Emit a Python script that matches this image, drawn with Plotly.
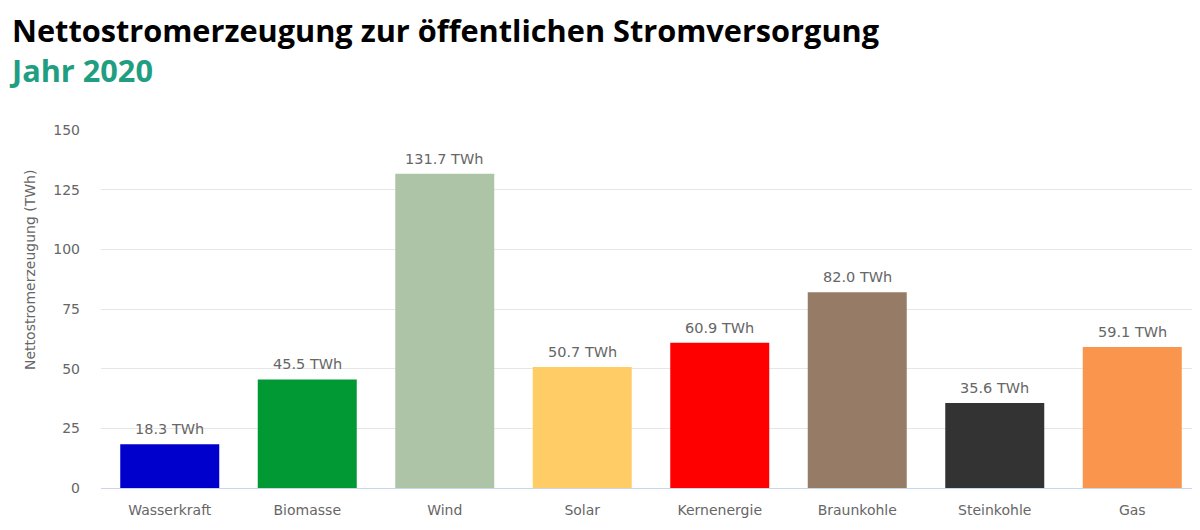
import plotly.graph_objects as go

categories = ["Wasserkraft", "Biomasse", "Wind", "Solar", "Kernenergie", "Braunkohle", "Steinkohle", "Gas"]
values = [18.3, 45.5, 131.7, 50.7, 60.9, 82.0, 35.6, 59.1]
colors = ["#0000cc", "#009933", "#adc5a6", "#ffcc66", "#ff0000", "#967c66", "#333333", "#f9954c"]
y_ticks = [0, 25, 50, 75, 100, 125, 150]

# page body has an 8px default margin; positions below are in figure pixels
OFF = 8
W, H = 1200, 530
L, R, T, B = 101 - OFF, 7, 130 - OFF, 50
pw, ph = W - L - R, H - T - B

def px_x(x):
    return (x - OFF - L) / pw

def px_y(y):
    return (H - B - (y - OFF)) / ph

label_font = "DejaVu Sans"

fig = go.Figure()
fig.add_trace(go.Bar(
    x=categories, y=values,
    marker=dict(color=colors, line=dict(width=0)),
    width=0.72,
    hovertemplate="%{x}: %{y:.1f} TWh<extra></extra>",
))

annotations = [
    dict(text="<b>Nettostromerzeugung zur öffentlichen Stromversorgung</b><br>"
              "<b><span style='color:#1f9e81'>Jahr 2020</span></b>",
         x=px_x(7), y=px_y(50), xref="paper", yref="paper",
         xanchor="left", yanchor="middle", align="left", showarrow=False,
         font=dict(family="Open Sans", size=30.7, color="#000000")),
    dict(text="Nettostromerzeugung (TWh)",
         x=px_x(30), y=px_y(270), xref="paper", yref="paper",
         xanchor="center", yanchor="middle", showarrow=False, textangle=-90,
         font=dict(family=label_font, size=14, color="#666666")),
]
for c, v in zip(categories, values):
    annotations.append(dict(
        text=f"{v:.1f} TWh", x=c, y=v, xref="x", yref="y",
        xanchor="center", yanchor="bottom", yshift=5, showarrow=False,
        font=dict(family=label_font, size=14.5, color="#666666"),
    ))

fig.update_layout(
    width=W, height=H,
    margin=dict(l=L, r=R, t=T, b=B, autoexpand=False),
    paper_bgcolor="white", plot_bgcolor="white",
    showlegend=False,
    font=dict(family=label_font, color="#666666"),
    annotations=annotations,
)
fig.update_xaxes(
    tickfont=dict(family=label_font, size=14, color="#666666"),
    showline=True, linecolor="#ccd6eb", linewidth=1,
    ticks="", showgrid=False, automargin=False,
    ticklabelstandoff=9,
)
fig.update_yaxes(
    range=[0, 150], tickvals=y_ticks,
    tickfont=dict(family=label_font, size=14, color="#666666"),
    gridcolor="#e6e6e6", gridwidth=1,
    zeroline=False, automargin=False,
    ticklabelstandoff=20,
)

fig.write_html("out.html")
